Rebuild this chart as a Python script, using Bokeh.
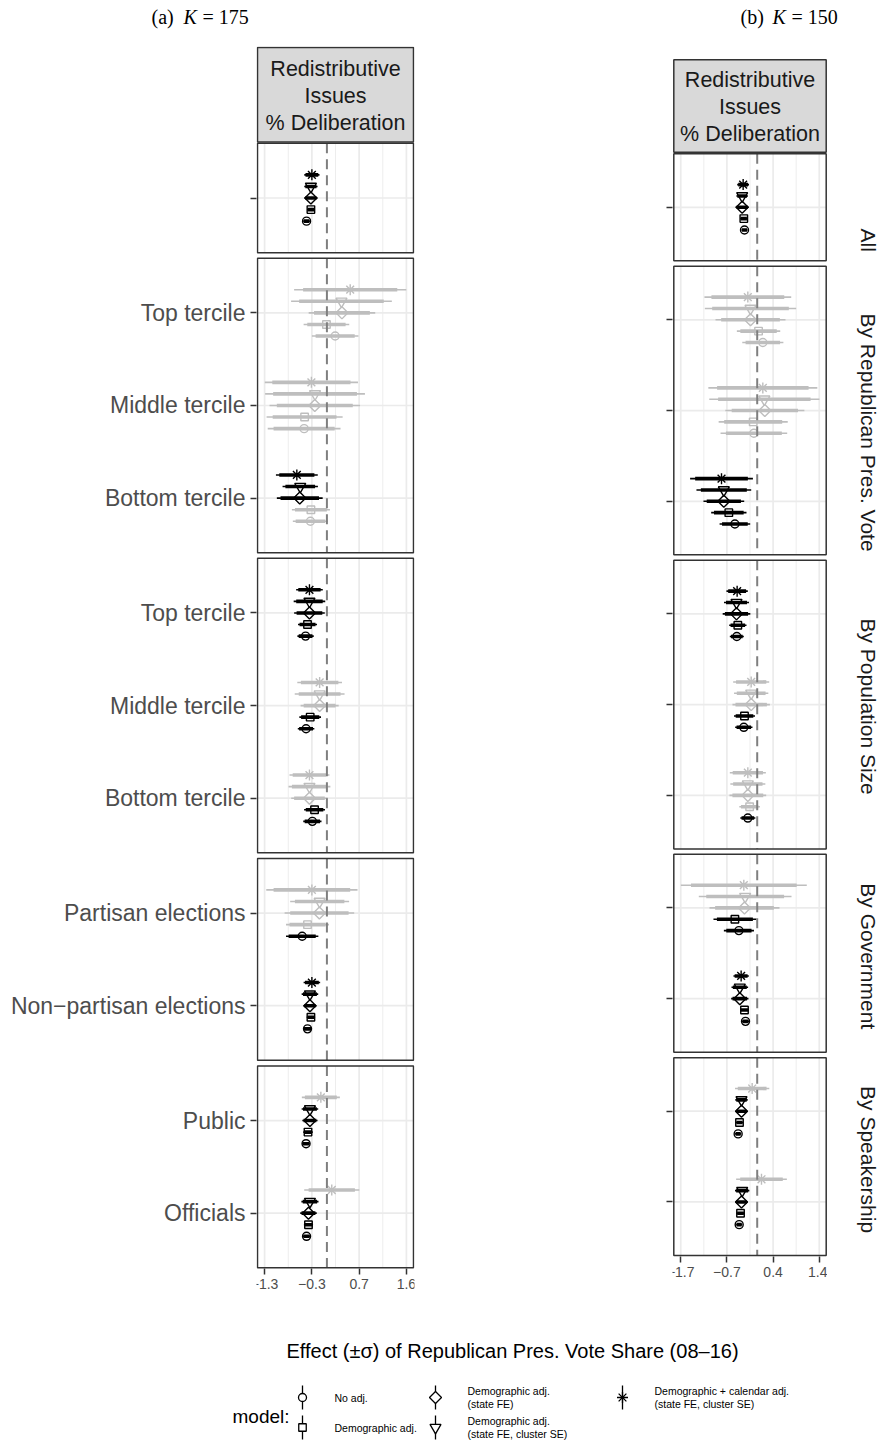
import math
from bokeh.plotting import figure
from bokeh.models import Range1d, FixedTicker, ColumnDataSource, CustomJSTickFormatter
from bokeh.layouts import column, row
from bokeh.embed import file_html
from bokeh.resources import INLINE
from bokeh.core.properties import value

# ---------------- data ----------------
facets = ["All", "By Republican Pres. Vote", "By Population Size", "By Government", "By Speakership"]
facet_categories = [
    [""],
    ["Top tercile", "Middle tercile", "Bottom tercile"],
    ["Top tercile", "Middle tercile", "Bottom tercile"],
    ["Partisan elections", "Non\u2212partisan elections"],
    ["Public", "Officials"],
]
models = [
    "No adj.",
    "Demographic adj.",
    "Demographic adj.\n(state FE)",
    "Demographic adj.\n(state FE, cluster SE)",
    "Demographic + calendar adj.\n(state FE, cluster SE)",
]
strip_text = "Redistributive\nIssues\n% Deliberation"
x_title = "Effect (\u00b1\u03c3) of Republican Pres. Vote Share (08\u201316)"
legend_title = "model:"
panel_tags = ["(a)", "(b)"]
panel_K = ["= 175", "= 150"]

x_ticks_175 = [-1.285, -0.31, 0.664, 1.639]
x_tick_labels_175 = ["\u22121.3", "\u22120.3", "0.7", "1.6"]
x_ticks_150 = [-1.714, -0.679, 0.356, 1.391]
x_tick_labels_150 = ["\u22121.7", "\u22120.7", "0.4", "1.4"]

# rows: All | Rep top, mid, bot | Pop top, mid, bot | Gov partisan, non-partisan | Speak public, officials
# K = 175
est_175_noadj = [-0.42, 0.17, -0.47, -0.34, -0.44, -0.43, -0.30, -0.51, -0.40, -0.43, -0.42]
se_175_noadj = [0.035, 0.245, 0.383, 0.185, 0.086, 0.087, 0.096, 0.17, 0.044, 0.04, 0.04]
est_175_demo = [-0.33, -0.01, -0.46, -0.33, -0.40, -0.345, -0.255, -0.40, -0.33, -0.39, -0.38]
se_175_demo = [0.04, 0.24, 0.40, 0.20, 0.10, 0.114, 0.11, 0.226, 0.044, 0.05, 0.048]
est_175_fe = [-0.33, 0.31, -0.25, -0.56, -0.36, -0.15, -0.36, -0.155, -0.35, -0.35, -0.38]
se_175_fe = [0.07, 0.35, 0.476, 0.241, 0.161, 0.20, 0.192, 0.366, 0.07, 0.08, 0.087]
est_175_cl = [-0.33, 0.30, -0.245, -0.55, -0.36, -0.15, -0.36, -0.15, -0.35, -0.35, -0.35]
se_175_cl = [0.07, 0.53, 0.525, 0.186, 0.166, 0.262, 0.22, 0.31, 0.087, 0.087, 0.09]
est_175_cal = [-0.31, 0.48, -0.32, -0.62, -0.36, -0.15, -0.36, -0.31, -0.31, -0.125, 0.10]
se_175_cal = [0.08, 0.59, 0.49, 0.22, 0.14, 0.235, 0.21, 0.48, 0.087, 0.20, 0.29]
# K = 150
est_150_noadj = [-0.285, 0.126, -0.075, -0.50, -0.457, -0.30, -0.21, -0.41, -0.262, -0.427, -0.404]
se_150_noadj = [0.035, 0.235, 0.381, 0.175, 0.08, 0.099, 0.086, 0.172, 0.04, 0.035, 0.035]
est_150_demo = [-0.30, 0.03, -0.09, -0.636, -0.434, -0.285, -0.17, -0.50, -0.285, -0.397, -0.374]
se_150_demo = [0.042, 0.248, 0.395, 0.202, 0.099, 0.12, 0.118, 0.245, 0.05, 0.042, 0.046]
est_150_fe = [-0.337, -0.15, 0.171, -0.748, -0.464, -0.135, -0.21, -0.285, -0.39, -0.352, -0.352]
se_150_fe = [0.076, 0.40, 0.452, 0.233, 0.158, 0.214, 0.21, 0.40, 0.099, 0.066, 0.071]
est_150_cl = [-0.337, -0.15, 0.16, -0.748, -0.464, -0.135, -0.21, -0.27, -0.39, -0.352, -0.337]
se_150_cl = [0.066, 0.522, 0.63, 0.313, 0.143, 0.196, 0.20, 0.53, 0.095, 0.071, 0.082]
est_150_cal = [-0.315, -0.21, 0.126, -0.80, -0.45, -0.135, -0.21, -0.30, -0.36, -0.113, 0.096]
se_150_cal = [0.067, 0.496, 0.623, 0.359, 0.122, 0.206, 0.206, 0.72, 0.088, 0.196, 0.29]

est_175 = [est_175_noadj, est_175_demo, est_175_fe, est_175_cl, est_175_cal]
se_175 = [se_175_noadj, se_175_demo, se_175_fe, se_175_cl, se_175_cal]
est_150 = [est_150_noadj, est_150_demo, est_150_fe, est_150_cl, est_150_cal]
se_150 = [se_150_noadj, se_150_demo, se_150_fe, se_150_cl, se_150_cal]

# ---------------- style / layout ----------------
FONT = "Liberation Sans"
SERIF = "Liberation Serif"
GRID = "#EBEBEB"
BORDER = "#333333"
SIG = "#000000"
NONSIG = "#BEBEBE"
Z95, Z90 = 1.96, 1.645
MARKERS = [
    dict(marker="circle", size=8, angle=0.0),
    dict(marker="square", size=7.5, angle=0.0),
    dict(marker="square", size=8.5, angle=math.pi / 4),
    dict(marker="inverted_triangle", size=11, angle=0.0),
    dict(marker="asterisk", size=11, angle=0.0),
]
STEP, PAD, GAP, STRIP_H, STRIP_GAP = 0.125, 0.59, 0.06, 1.02, 0.015
HEADER_H, FOOTER_H = 32, 118
TOP_BORDER, FRAME_H, BOTTOM_BORDER = 14, 1253, 30
ROW_H = TOP_BORDER + FRAME_H + BOTTOM_BORDER
FRAME_TOP = HEADER_H + TOP_BORDER          # page y of the frame's top edge
FRAME_BOTTOM = FRAME_TOP + FRAME_H
FOOTER_TOP = HEADER_H + ROW_H


def facet_layout():
    y = STRIP_H + STRIP_GAP
    tops, bottoms, cat_y = [], [], []
    for cats in facet_categories:
        tops.append(y)
        for i in range(len(cats)):
            cat_y.append(y + PAD + i)
        y = y + 2 * PAD + len(cats) - 1
        bottoms.append(y)
        y += GAP
    return tops, bottoms, cat_y, bottoms[-1]


def label_formatter(vals, labels):
    return CustomJSTickFormatter(args=dict(vals=list(vals), labels=list(labels)), code="""
        let best = 0, bd = Infinity;
        for (let i = 0; i < vals.length; i++) {
            const d = Math.abs(vals[i] - tick);
            if (d < bd) { bd = d; best = i; }
        }
        return labels[best];
    """)


def style_fig(p):
    p.xgrid.visible = False
    p.ygrid.visible = False
    p.outline_line_color = None
    p.background_fill_color = "white"
    p.border_fill_color = "white"


def make_panel(est, se, ticks, tick_labels, panel_w, frame_w, content_top, content_bottom,
               mb_left, mb_right, show_ylabels):
    tops, bottoms, cat_y, total = facet_layout()
    span = ticks[-1] - ticks[0]
    lo, hi = ticks[0] - 0.05 * span, ticks[-1] + 0.05 * span
    ex = (hi - lo) * (frame_w / panel_w - 1) / 2
    u = (content_bottom - content_top) / total      # px per category unit
    y_top = -(content_top - FRAME_TOP) / u
    y_bot = total + (FRAME_BOTTOM - content_bottom) / u
    p = figure(width=mb_left + frame_w + mb_right, height=ROW_H,
               x_range=Range1d(lo - ex, hi + ex), y_range=Range1d(y_bot, y_top),
               output_backend="svg", toolbar_location=None, title_location=None,
               min_border_left=mb_left, min_border_right=mb_right,
               min_border_top=TOP_BORDER, min_border_bottom=BOTTOM_BORDER)
    style_fig(p)

    # grid lines inside each panel
    minors = [(a + b) / 2 for a, b in zip(ticks[:-1], ticks[1:])]
    vx, vy0, vy1 = [], [], []
    mx, my0, my1 = [], [], []
    for t, b in zip(tops, bottoms):
        for tk in ticks:
            vx.append(tk); vy0.append(t); vy1.append(b)
        for tk in minors:
            mx.append(tk); my0.append(t); my1.append(b)
    p.segment(x0=mx, x1=mx, y0=my0, y1=my1, line_color=GRID, line_width=0.9)
    p.segment(x0=vx, x1=vx, y0=vy0, y1=vy1, line_color=GRID, line_width=1.7)
    p.segment(x0=[lo] * len(cat_y), x1=[hi] * len(cat_y), y0=cat_y, y1=cat_y,
              line_color=GRID, line_width=1.7)

    # estimates with 95% (thin) and 90% (thick) intervals
    for m in range(len(models)):
        e, s = est[m], se[m]
        lo95 = [a - Z95 * b for a, b in zip(e, s)]
        hi95 = [a + Z95 * b for a, b in zip(e, s)]
        lo90 = [a - Z90 * b for a, b in zip(e, s)]
        hi90 = [a + Z90 * b for a, b in zip(e, s)]
        col = [SIG if (l > 0 or h < 0) else NONSIG for l, h in zip(lo95, hi95)]
        ys = [c + (2 - m) * STEP for c in cat_y]
        src = ColumnDataSource(dict(y=ys, est=e, lo95=lo95, hi95=hi95, lo90=lo90, hi90=hi90, color=col))
        p.segment(x0="lo95", x1="hi95", y0="y", y1="y", line_color="color", line_width=1.6, source=src)
        p.segment(x0="lo90", x1="hi90", y0="y", y1="y", line_color="color", line_width=3.6, source=src)
        mk = MARKERS[m]
        p.scatter(x="est", y="y", marker=mk["marker"], size=mk["size"], angle=mk["angle"],
                  line_color="color", fill_color=None, line_width=1.4, source=src)

    # zero reference line
    p.segment(x0=[0] * len(tops), x1=[0] * len(tops), y0=tops, y1=bottoms,
              line_color="#7F7F7F", line_width=2, line_dash="10 6")
    # panel borders
    p.quad(left=[lo] * len(tops), right=[hi] * len(tops), top=tops, bottom=bottoms,
           fill_color=None, line_color=BORDER, line_width=1.5)
    # strip
    p.quad(left=[lo], right=[hi], top=[0], bottom=[STRIP_H], fill_color="#D9D9D9",
           line_color=BORDER, line_width=1.5)
    p.text(x=[(lo + hi) / 2], y=[STRIP_H / 2 + 0.01], text=[strip_text], text_align="center",
           text_baseline="middle", text_font=value(FONT), text_font_size="21.5px",
           text_color="#1A1A1A", text_line_height=1.12)

    # axes
    xa = p.xaxis[0]
    xa.ticker = FixedTicker(ticks=ticks, minor_ticks=[])
    xa.formatter = label_formatter(ticks, tick_labels)
    xa.fixed_location = total + 1.0 / u
    xa.axis_line_color = None
    xa.major_tick_out = 6
    xa.major_tick_in = 0
    xa.minor_tick_out = 0
    xa.major_tick_line_color = BORDER
    xa.major_tick_line_width = 1.5
    xa.major_label_standoff = 4
    xa.major_label_text_font = FONT
    xa.major_label_text_font_size = "14px"
    xa.major_label_text_color = "#4D4D4D"

    ya = p.yaxis[0]
    ylabels = [c for cats in facet_categories for c in cats]
    if not show_ylabels:
        ylabels = ["" for _ in ylabels]
    ya.ticker = FixedTicker(ticks=cat_y, minor_ticks=[])
    ya.formatter = label_formatter(cat_y, ylabels)
    ya.axis_line_color = None
    ya.major_tick_out = 6
    ya.major_tick_in = 0
    ya.minor_tick_out = 0
    ya.major_tick_line_color = BORDER
    ya.major_tick_line_width = 1.5
    ya.major_label_standoff = 5
    ya.major_label_text_font = FONT
    ya.major_label_text_font_size = "23px"
    ya.major_label_text_color = "#4D4D4D"
    return p


CONTENT_A = (47.0, 1267.3)
CONTENT_B = (59.3, 1255.0)
fig_a = make_panel(est_175, se_175, x_ticks_175, x_tick_labels_175, 156.0, 158,
                   CONTENT_A[0], CONTENT_A[1], 256, 200, True)
fig_b = make_panel(est_150, se_150, x_ticks_150, x_tick_labels_150, 152.4, 155,
                   CONTENT_B[0], CONTENT_B[1], 58, 0, False)

# right-hand facet strip labels, sharing panel (b)'s vertical scale
tops, bottoms, _, total = facet_layout()
u_b = (CONTENT_B[1] - CONTENT_B[0]) / total
strip_shift_px = [33, 22, 2, 3, 3]
strip_centers = [(t + b) / 2 + sh / u_b for t, b, sh in zip(tops, bottoms, strip_shift_px)]
strip_fig = figure(width=53, height=ROW_H, x_range=Range1d(0, 53), y_range=fig_b.y_range,
                   output_backend="svg", toolbar_location=None, title_location=None,
                   x_axis_location=None, y_axis_location=None,
                   min_border_left=0, min_border_right=0, min_border_top=TOP_BORDER,
                   min_border_bottom=BOTTOM_BORDER)
style_fig(strip_fig)
strip_fig.text(x=[41] * len(facets), y=strip_centers, text=facets, angle=-math.pi / 2,
               text_align="center", text_baseline="middle", text_font=value(FONT),
               text_font_size="21px", text_color="#1A1A1A")


def blank_fig(w, h):
    f = figure(width=w, height=h, x_range=Range1d(0, w), y_range=Range1d(h, 0),
               output_backend="svg", toolbar_location=None, title_location=None,
               x_axis_location=None, y_axis_location=None,
               min_border=0, min_border_left=0, min_border_right=0,
               min_border_top=0, min_border_bottom=0)
    style_fig(f)
    return f


# header with sub-figure captions
header = blank_fig(880, HEADER_H)
cap_centers = [197, 786]
header.text(x=[c - 46 for c in cap_centers], y=[16, 16], text=panel_tags, text_align="left",
            text_baseline="middle", text_font=value(SERIF), text_font_size="20px", text_color="black")
header.text(x=[c - 14 for c in cap_centers], y=[16, 16], text=["K", "K"], text_align="left",
            text_baseline="middle", text_font=value(SERIF), text_font_size="20px",
            text_font_style="italic", text_color="black")
header.text(x=[c + 5 for c in cap_centers], y=[16, 16], text=panel_K, text_align="left",
            text_baseline="middle", text_font=value(SERIF), text_font_size="20px", text_color="black")

# footer: axis title + legend (positions given in page pixels, shifted to footer origin)
footer = blank_fig(880, FOOTER_H)
footer.text(x=[512], y=[1350 - FOOTER_TOP], text=[x_title], text_align="center", text_baseline="middle",
            text_font=value(FONT), text_font_size="20px", text_color="black")
footer.text(x=[232], y=[1416 - FOOTER_TOP], text=[legend_title], text_align="left", text_baseline="middle",
            text_font=value(FONT), text_font_size="19px", text_color="black")
key_cols = [302, 435, 622]
key_rows = [1397 - FOOTER_TOP, 1427 - FOOTER_TOP]
for i, name in enumerate(models):
    kx = key_cols[i // 2]
    ky = key_rows[i % 2]
    footer.segment(x0=[kx], x1=[kx], y0=[ky - 12], y1=[ky + 12], line_color="black", line_width=1.3)
    mk = MARKERS[i]
    footer.scatter(x=[kx], y=[ky], marker=mk["marker"], size=mk["size"], angle=mk["angle"],
                   line_color="black", fill_color="white", line_width=1.3)
    footer.text(x=[kx + 32], y=[ky], text=[name], text_align="left", text_baseline="middle",
                text_font=value(FONT), text_font_size="10.5px", text_color="black",
                text_line_height=1.1)

layout = column(header, row(fig_a, fig_b, strip_fig), footer)
open("out.html", "w").write(file_html(layout, INLINE))
